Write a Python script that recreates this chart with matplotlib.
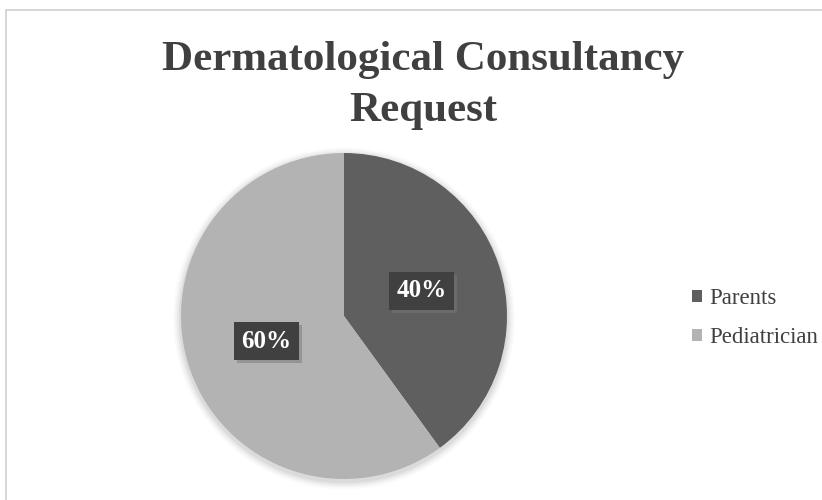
import matplotlib
matplotlib.use("Agg")
import matplotlib.pyplot as plt
from matplotlib.patches import Rectangle, Circle
import matplotlib.patheffects as pe

labels = ["Parents", "Pediatrician"]
values = [40, 60]
colors = ["#5f5f5f", "#b3b3b3"]
title_lines = ["Dermatological Consultancy", "Request"]

W, H = 822, 500
fig = plt.figure(figsize=(W / 100, H / 100), dpi=100)
fig.patch.set_facecolor("white")

# outer frame
fig.add_artist(Rectangle((6 / W, -0.05), 1.0, 1 - 10 / H + 0.05, transform=fig.transFigure,
                         fill=False, edgecolor="#d0d0d0", linewidth=1.2))

fig.text(423 / W, 1 - 70 / H, title_lines[0], ha="center", va="baseline", fontsize=31,
         fontweight="bold", family="Liberation Serif", color="#404040")
fig.text(423 / W, 1 - 121 / H, title_lines[1], ha="center", va="baseline", fontsize=31,
         fontweight="bold", family="Liberation Serif", color="#404040")

cx, cy, r = 344, 316, 163
ax = fig.add_axes([(cx - r) / W, 1 - (cy + r) / H, 2 * r / W, 2 * r / H])
ax.set_xlim(-1, 1)
ax.set_ylim(-1, 1)
ax.set_aspect("equal")

# soft shadow around the pie
for i, a in enumerate([0.05, 0.04, 0.03, 0.02]):
    ax.add_patch(Circle((0, -0.015), 1.0 + 0.012 * (i + 1), facecolor="#000000", alpha=a,
                        edgecolor="none", zorder=0, clip_on=False))

wedges, texts, autotexts = ax.pie(values, colors=colors, startangle=90, counterclock=False,
                                  autopct="%1.0f%%", pctdistance=0.5, radius=1.0,
                                  wedgeprops=dict(linewidth=0, zorder=2))
for t in autotexts:
    t.set_color("white")
    t.set_fontsize(18)
    t.set_fontweight("bold")
    t.set_family("Liberation Serif")
    t.set_zorder(5)
    t.set_bbox(dict(facecolor="#404040", edgecolor="none", boxstyle="square,pad=0.3"))
    t.get_bbox_patch().set_path_effects([
        pe.withSimplePatchShadow(offset=(2, -2), shadow_rgbFace="#777777", alpha=0.5), pe.Normal()])
ax.set_xlim(-1, 1)
ax.set_ylim(-1, 1)

leg = fig.legend(wedges, labels, loc="center left", bbox_to_anchor=(692 / W, 1 - 318 / H),
                 frameon=False, prop={"family": "Liberation Serif", "size": 16.5},
                 labelcolor="#404040", handlelength=0.45, handleheight=0.45,
                 handletextpad=0.3, labelspacing=0.8, borderpad=0, borderaxespad=0)

fig.savefig("out.png", dpi=100)
